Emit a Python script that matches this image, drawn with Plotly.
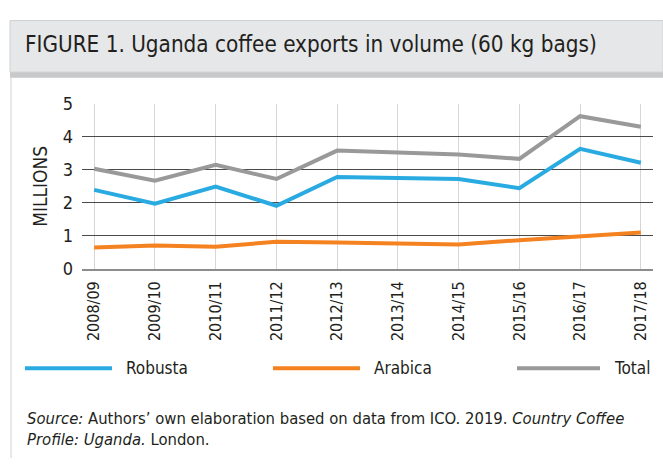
import plotly.graph_objects as go

seasons = ["2008/09", "2009/10", "2010/11", "2011/12", "2012/13",
           "2013/14", "2014/15", "2015/16", "2016/17", "2017/18"]
robusta = [2.39, 1.97, 2.49, 1.91, 2.78, 2.74, 2.72, 2.44, 3.63, 3.21]
arabica = [0.65, 0.71, 0.67, 0.82, 0.80, 0.78, 0.74, 0.87, 0.99, 1.10]
total = [3.03, 2.67, 3.15, 2.72, 3.58, 3.51, 3.46, 3.33, 4.62, 4.30]
y_ticks = [0, 1, 2, 3, 4, 5]

W, H = 663, 468
FONT = "DejaVu Sans Condensed, Liberation Sans Narrow, Arial Narrow, sans-serif"
TXT = "#231f20"
C_ROB = "#29abe2"
C_ARA = "#f58220"
C_TOT = "#999999"


def px(x):
    return x / W


def py(y):
    return 1 - y / H


fig = go.Figure()
for name, vals, col in [("Total", total, C_TOT), ("Robusta", robusta, C_ROB),
                        ("Arabica", arabica, C_ARA)]:
    fig.add_trace(go.Scatter(x=seasons, y=vals, name=name, mode="lines",
                             line=dict(color=col, width=4), showlegend=False))

fig.update_layout(
    width=W, height=H,
    margin=dict(l=0, r=0, t=0, b=0),
    paper_bgcolor="white", plot_bgcolor="white",
    font=dict(family=FONT, color=TXT),
    xaxis=dict(domain=[px(82), px(653)], type="category", range=[-0.2, 9.2],
               showgrid=True, gridcolor="#d6d6d6", gridwidth=1,
               tickangle=-90, tickfont=dict(size=16, color=TXT),
               showline=True, linecolor="#8c8c8c", linewidth=2,
               ticks="", ticklabelstandoff=4, zeroline=False),
    yaxis=dict(domain=[py(270), py(97)], range=[0, 5], tickvals=y_ticks,
               showgrid=True, gridcolor="#4a4a4a", gridwidth=1,
               tickfont=dict(size=18, color=TXT), ticks="",
               ticklabelstandoff=8, zeroline=False, showline=False,
               title=dict(text="MILLIONS", font=dict(size=19, color=TXT),
                          standoff=10)),
)

# Frame: title box, bottom band, left border
fig.add_shape(type="rect", xref="paper", yref="paper",
              x0=px(10), x1=px(663), y0=py(64), y1=py(10),
              fillcolor="#e6e7e8", line=dict(color="#cfd0d2", width=1), layer="below")
fig.add_shape(type="rect", xref="paper", yref="paper",
              x0=px(10), x1=px(663), y0=py(70), y1=py(64),
              fillcolor="#c8c9cb", line=dict(width=0), layer="below")
fig.add_shape(type="line", xref="paper", yref="paper",
              x0=px(11), x1=px(11), y0=py(468), y1=py(70),
              line=dict(color="#d0d0d0", width=1))

fig.add_annotation(xref="paper", yref="paper", x=px(23), y=py(35),
                   xanchor="left", yanchor="middle", showarrow=False,
                   text="FIGURE 1. Uganda coffee exports in volume (60 kg bags)",
                   font=dict(size=22.3, color=TXT))

# Custom legend
legend_items = [("Robusta", C_ROB, 25, 112), ("Arabica", C_ARA, 273, 360),
                ("Total", C_TOT, 517, 600)]
for label, col, x0, x1 in legend_items:
    fig.add_shape(type="line", xref="paper", yref="paper",
                  x0=px(x0), x1=px(x1), y0=py(374), y1=py(374),
                  line=dict(color=col, width=4))
    fig.add_annotation(xref="paper", yref="paper", x=px(x1 + 12), y=py(374),
                       xanchor="left", yanchor="middle", showarrow=False,
                       text=label, font=dict(size=17, color=TXT))

fig.add_annotation(xref="paper", yref="paper", x=px(25), y=py(415),
                   xanchor="left", yanchor="top", showarrow=False, align="left",
                   text="<i>Source:</i> Authors’ own elaboration based on data from ICO. 2019. "
                        "<i>Country Coffee</i><br><i>Profile: Uganda.</i> London.",
                   font=dict(size=16.5, color=TXT))

fig.write_html("out.html")
